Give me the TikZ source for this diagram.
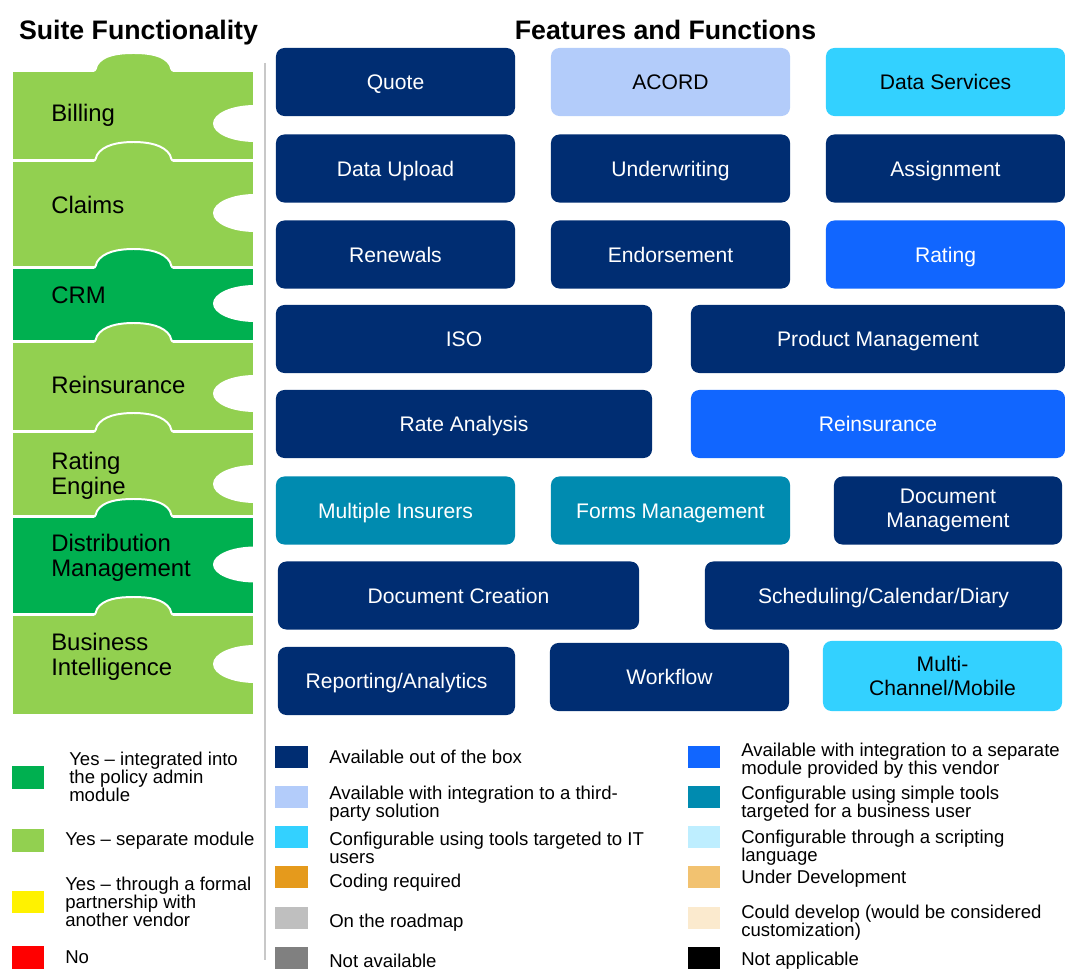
\documentclass[tikz,border=0pt]{standalone}
\usepackage{fontspec}
\setmainfont{Liberation Sans}
\usepackage{tikz}
\usetikzlibrary{positioning}
\definecolor{navy}{RGB}{0,45,114}
\definecolor{acordblue}{RGB}{179,204,250}
\definecolor{itcyan}{RGB}{51,209,255}
\definecolor{modblue}{RGB}{17,102,255}
\definecolor{bizteal}{RGB}{0,139,176}
\definecolor{scriptcyan}{RGB}{190,238,255}
\definecolor{codeorange}{RGB}{229,154,28}
\definecolor{devorange}{RGB}{242,194,112}
\definecolor{cream}{RGB}{251,234,206}
\definecolor{roadgray}{RGB}{191,191,191}
\definecolor{nagray}{RGB}{128,128,128}
\definecolor{dgreen}{RGB}{0,176,80}
\definecolor{lgreen}{RGB}{146,208,80}
\definecolor{sepgray}{RGB}{200,200,200}

\begin{document}
\begin{tikzpicture}[x=0.025cm,y=-0.025cm,
  feat/.style={rectangle,rounded corners=6pt,fill=navy,text=white,minimum width=5.975cm,minimum height=1.7cm,align=center,inner sep=2pt,text height=10.7pt,text depth=0pt,font=\fontsize{15}{17}\selectfont},
  twoline/.style={text height=,text depth=},
  piece/.style={draw=white,line width=1.4pt},
  plabel/.style={anchor=west,align=left,inner sep=0pt,font=\fontsize{17}{17.8}\selectfont},
  legbox/.style={rectangle,minimum width=0.8cm,minimum height=0.57cm,inner sep=0pt},
  legtext/.style={anchor=west,align=left,inner sep=0pt,font=\fontsize{13.2}{12.6}\selectfont},
  title/.style={anchor=base,font=\fontsize{19}{22}\selectfont\bfseries}]
  \useasboundingbox (0,0) rectangle (1065,971);

  \node[title] (suite) at (138.5,40) {Suite Functionality};
  \node[title] (features) at (665.5,40) {Features and Functions};

  \filldraw[piece,fill=lgreen] (12,71) -- (93,71) .. controls (96,71) and (96,67) .. (97,65) .. controls (103,55) and (118,53) .. (133.5,53) .. controls (149,53) and (164,55) .. (170,65) .. controls (171,67) and (171,71) .. (174,71) -- (254,71) -- (254,160) -- (12,160) -- cycle;
  \filldraw[piece,fill=lgreen] (12,161) -- (93,161) .. controls (96,161) and (96,157) .. (97,155) .. controls (103,145) and (118,142) .. (133.5,142) .. controls (149,142) and (164,145) .. (170,155) .. controls (171,157) and (171,161) .. (174,161) -- (254,161) -- (254,267) -- (12,267) -- cycle;
  \filldraw[piece,fill=dgreen] (12,268) -- (93,268) .. controls (96,268) and (96,264) .. (97,262) .. controls (103,252) and (118,249) .. (133.5,249) .. controls (149,249) and (164,252) .. (170,262) .. controls (171,264) and (171,268) .. (174,268) -- (254,268) -- (254,341) -- (12,341) -- cycle;
  \filldraw[piece,fill=lgreen] (12,342) -- (93,342) .. controls (96,342) and (96,338) .. (97,336) .. controls (103,326) and (118,323) .. (133.5,323) .. controls (149,323) and (164,326) .. (170,336) .. controls (171,338) and (171,342) .. (174,342) -- (254,342) -- (254,431) -- (12,431) -- cycle;
  \filldraw[piece,fill=lgreen] (12,432) -- (93,432) .. controls (96,432) and (96,428) .. (97,426) .. controls (103,416) and (118,413) .. (133.5,413) .. controls (149,413) and (164,416) .. (170,426) .. controls (171,428) and (171,432) .. (174,432) -- (254,432) -- (254,516) -- (12,516) -- cycle;
  \filldraw[piece,fill=dgreen] (12,517) -- (93,517) .. controls (96,517) and (96,513) .. (97,511) .. controls (103,501) and (118,499) .. (133.5,499) .. controls (149,499) and (164,501) .. (170,511) .. controls (171,513) and (171,517) .. (174,517) -- (254,517) -- (254,614) -- (12,614) -- cycle;
  \filldraw[piece,fill=lgreen] (12,615) -- (93,615) .. controls (96,615) and (96,611) .. (97,609) .. controls (103,599) and (118,597) .. (133.5,597) .. controls (149,597) and (164,599) .. (170,609) .. controls (171,611) and (171,615) .. (174,615) -- (254,615) -- (254,715) -- (12,715) -- cycle;

  \fill[white] (255,123.5) ellipse [x radius=42, y radius=18.5];
  \fill[white] (255,213) ellipse [x radius=42, y radius=19];
  \fill[white] (255,303.5) ellipse [x radius=42, y radius=18.5];
  \fill[white] (255,393.5) ellipse [x radius=42, y radius=18.5];
  \fill[white] (255,484) ellipse [x radius=42, y radius=19];
  \fill[white] (255,564.5) ellipse [x radius=42, y radius=18];
  \fill[white] (255,664) ellipse [x radius=42, y radius=19];

  \node[plabel] (billing) at (51,115) {Billing};
  \node[plabel] (claims) at (51,205) {Claims};
  \node[plabel] (crm) at (51,295) {CRM};
  \node[plabel] (reins) at (51,385) {Reinsurance};
  \node[plabel] (rateeng) at (51,476) {Rating\\Engine};
  \node[plabel] (distrib) at (51,558) {Distribution\\Management};
  \node[plabel] (bizint) at (51,657) {Business\\Intelligence};

  \coordinate (septop) at (265,63);
  \coordinate (sepbot) at (265,960);
  \draw[sepgray,line width=1.3pt] (septop) -- (sepbot);

  \node[feat] (quote) at (395.5,82) {Quote};
  \node[feat,fill=acordblue,text=black] (acord) at (670.5,82) {ACORD};
  \node[feat,fill=itcyan,text=black] (datasvc) at (945.5,82) {Data Services};
  \node[feat] (upload) at (395.5,168.5) {Data Upload};
  \node[feat] (underwr) at (670.5,168.5) {Underwriting};
  \node[feat] (assign) at (945.5,168.5) {Assignment};
  \node[feat] (renew) at (395.5,254.5) {Renewals};
  \node[feat] (endorse) at (670.5,254.5) {Endorsement};
  \node[feat,fill=modblue] (rating) at (945.5,254.5) {Rating};
  \node[feat,minimum width=9.4cm] (iso) at (464,339) {ISO};
  \node[feat,minimum width=9.35cm] (prodmgmt) at (878,339) {Product Management};
  \node[feat,minimum width=9.4cm] (rateanal) at (464,424) {Rate Analysis};
  \node[feat,minimum width=9.35cm,fill=modblue] (reinsf) at (878,424) {Reinsurance};
  \node[feat,fill=bizteal] (multins) at (395.5,510.5) {Multiple Insurers};
  \node[feat,fill=bizteal] (forms) at (670.5,510.5) {Forms Management};
  \node[feat,twoline,minimum width=5.7cm] (docmgmt) at (948,510.5) {Document\\Management};
  \node[feat,minimum width=9.025cm] (doccreate) at (458.5,595.5) {Document Creation};
  \node[feat,minimum width=8.925cm] (sched) at (883.5,595.5) {Scheduling/Calendar/Diary};
  \node[feat,minimum width=5.925cm] (report) at (396.5,681) {Reporting/Analytics};
  \node[feat] (workflow) at (669.5,677) {Workflow};
  \node[feat,twoline,fill=itcyan,text=black,minimum height=1.75cm] (multich) at (942.5,676) {Multi-\\Channel/Mobile};

  \node[legbox,fill=dgreen] (sq1) at (28,777.5) {};
  \node[legbox,fill=lgreen] (sq2) at (28,840.5) {};
  \node[legbox,fill=yellow] (sq3) at (28,902) {};
  \node[legbox,fill=red] (sq4) at (28,957.5) {};
  \node[legtext] (lt1) at (69,777) {Yes -- integrated into\\the policy admin\\module};
  \node[legtext] (lt2) at (65,841) {Yes -- separate module};
  \node[legtext] (lt3) at (65,902) {Yes -- through a formal\\partnership with\\another vendor};
  \node[legtext] (lt4) at (65,957) {No};

  \node[legbox,fill=navy] (sq5) at (291.5,757) {};
  \node[legbox,fill=acordblue] (sq6) at (291.5,797) {};
  \node[legbox,fill=itcyan] (sq7) at (291.5,837) {};
  \node[legbox,fill=codeorange] (sq8) at (291.5,877) {};
  \node[legbox,fill=roadgray] (sq9) at (291.5,918) {};
  \node[legbox,fill=nagray] (sq10) at (291.5,958) {};
  \node[legtext] (lt5) at (329,757) {Available out of the box};
  \node[legtext] (lt6) at (329,803.5) {Available with integration to a third-\\party solution};
  \node[legtext] (lt7) at (329,848) {Configurable using tools targeted to IT\\users};
  \node[legtext] (lt8) at (329,883) {Coding required};
  \node[legtext] (lt9) at (329,923) {On the roadmap};
  \node[legtext] (lt10) at (329,961) {Not available};

  \node[legbox,fill=modblue] (sq11) at (704,757) {};
  \node[legbox,fill=bizteal] (sq12) at (704,797) {};
  \node[legbox,fill=scriptcyan] (sq13) at (704,837) {};
  \node[legbox,fill=devorange] (sq14) at (704,877) {};
  \node[legbox,fill=cream] (sq15) at (704,918) {};
  \node[legbox,fill=black] (sq16) at (704,958) {};
  \node[legtext] (lt11) at (741,760.5) {Available with integration to a separate\\module provided by this vendor};
  \node[legtext] (lt12) at (741,803.5) {Configurable using simple tools\\targeted for a business user};
  \node[legtext] (lt13) at (741,848) {Configurable through a scripting\\language};
  \node[legtext] (lt14) at (741,879) {Under Development};
  \node[legtext] (lt15) at (741,923) {Could develop (would be considered\\customization)};
  \node[legtext] (lt16) at (741,961) {Not applicable};
\end{tikzpicture}
\end{document}
